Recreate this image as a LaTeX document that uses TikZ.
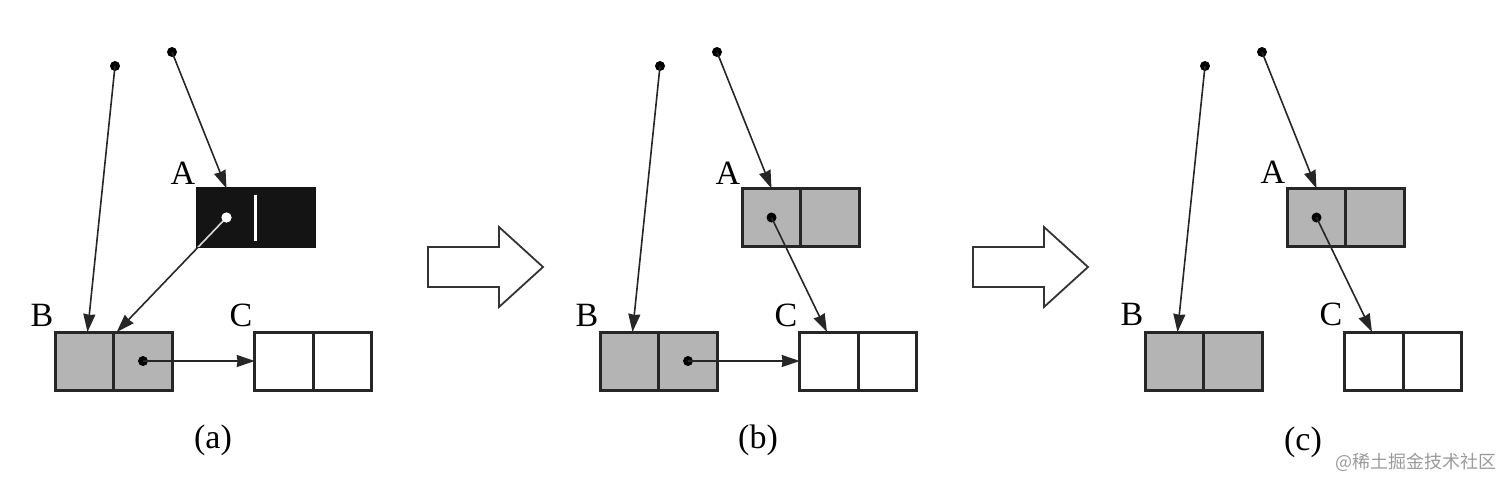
\documentclass[tikz,border=0pt]{standalone}
\usepackage{fontspec}
\setmainfont{Liberation Serif}
\newfontfamily\cjkfont{Noto Sans CJK SC}
\usetikzlibrary{arrows.meta}
\definecolor{cellgray}{HTML}{B4B4B4}
\definecolor{wmgray}{HTML}{9A9A9A}
\tikzset{
  cell/.style={rectangle, draw=black!85, line width=1.5pt, minimum width=29.25pt, minimum height=29pt, inner sep=0pt, outer sep=0pt},
  graycell/.style={cell, fill=cellgray},
  whitecell/.style={cell, fill=white},
  blackcell/.style={cell, fill=black!92, draw=black!92},
  ptr/.style={line width=0.8pt, draw=black!85, -{Stealth[length=9pt,width=6pt,inset=0.4pt]}},
  dot/.style={circle, fill=black, inner sep=0pt, minimum size=5pt},
  lbl/.style={font=\fontsize{17}{20}\selectfont, inner sep=0pt},
  bigarrow/.style={draw=black!80, line width=0.9pt, fill=white, line join=miter},
}
\begin{document}
\begin{tikzpicture}[x=0.5pt, y=-0.5pt]
\useasboundingbox (0,0) rectangle (1512,495);

% ---------------- panel (a) ----------------
\node[blackcell] (aA1) at (226.5,217.5) {};
\node[blackcell] (aA2) at (285,217.5) {};
\node[graycell] (aB1) at (84.5,361) {};
\node[graycell] (aB2) at (143,361) {};
\node[whitecell] (aC1) at (284,361) {};
\node[whitecell] (aC2) at (342.5,361) {};
\draw[white, line width=1.3pt] ([yshift=-3pt]aA1.north east) -- ([yshift=3pt]aA1.south east);
\node[lbl] (aLA) at (183,173) {A};
\node[lbl] (aLB) at (42,315) {B};
\node[lbl] (aLC) at (241,315) {C};
\node[dot] (ap1) at (115,66) {};
\node[dot] (ap2) at (172,52) {};
\node[dot, fill=white] (aAd) at (aA1.center) {};
\node[dot] (aBd) at (aB2.center) {};
\draw[ptr] (ap1.center) -- ([xshift=1.5pt]aB1.north);
\draw[ptr] (ap2.center) -- (aA1.north);
\draw[ptr] (aAd.center) -- ([xshift=1.5pt]aB2.north west);
\begin{scope}
  \clip (aA1.north west) rectangle (aA2.south east);
  \draw[line width=0.8pt, draw=white!85!black] (aAd.center) -- ([xshift=1.5pt]aB2.north west);
\end{scope}
\node[dot, fill=white] at (aA1.center) {};
\draw[ptr] (aBd.center) -- (aC1.west);
\node[lbl] (acap) at (213,440) {(a)};

% big arrow 1
\draw[bigarrow] (428,247) -- (499,247) -- (499,227) -- (543,267) -- (499,307) -- (499,287) -- (428,287) -- cycle;

% ---------------- panel (b) ----------------
\begin{scope}[xshift=272.5pt]
\node[graycell] (bA1) at (226.5,217.5) {};
\node[graycell] (bA2) at (285,217.5) {};
\node[graycell] (bB1) at (84.5,361) {};
\node[graycell] (bB2) at (143,361) {};
\node[whitecell] (bC1) at (284,361) {};
\node[whitecell] (bC2) at (342.5,361) {};
\node[lbl] (bLA) at (183,173) {A};
\node[lbl] (bLB) at (42,315) {B};
\node[lbl] (bLC) at (241,315) {C};
\node[dot] (bp1) at (115,66) {};
\node[dot] (bp2) at (172,52) {};
\node[dot] (bAd) at (bA1.center) {};
\node[dot] (bBd) at (bB2.center) {};
\draw[ptr] (bp1.center) -- ([xshift=1.5pt]bB1.north);
\draw[ptr] (bp2.center) -- (bA1.north);
\draw[ptr] (bAd.center) -- ([xshift=-1pt]bC1.north);
\draw[ptr] (bBd.center) -- (bC1.west);
\node[lbl] (bcap) at (213,440) {(b)};
\end{scope}

% big arrow 2
\draw[bigarrow] (973,247) -- (1044,247) -- (1044,227) -- (1088,267) -- (1044,307) -- (1044,287) -- (973,287) -- cycle;

% ---------------- panel (c) ----------------
\begin{scope}[xshift=545pt]
\node[graycell] (cA1) at (226.5,217.5) {};
\node[graycell] (cA2) at (285,217.5) {};
\node[graycell] (cB1) at (84.5,361) {};
\node[graycell] (cB2) at (143,361) {};
\node[whitecell] (cC1) at (284,361) {};
\node[whitecell] (cC2) at (342.5,361) {};
\node[lbl] (cLA) at (183,172) {A};
\node[lbl] (cLB) at (42,314) {B};
\node[lbl] (cLC) at (241,314) {C};
\node[dot] (cp1) at (115,66) {};
\node[dot] (cp2) at (172,52) {};
\node[dot] (cAd) at (cA1.center) {};
\draw[ptr] (cp1.center) -- ([xshift=1.5pt]cB1.north);
\draw[ptr] (cp2.center) -- (cA1.north);
\draw[ptr] (cAd.center) -- ([xshift=-1pt]cC1.north);
\node[lbl] (ccap) at (213,442) {(c)};
\end{scope}

% watermark
\node[inner sep=0pt, text=wmgray, font=\cjkfont\fontsize{9}{11}\selectfont] (wm) at (1416,462) {@稀土掘金技术社区};
\end{tikzpicture}
\end{document}
